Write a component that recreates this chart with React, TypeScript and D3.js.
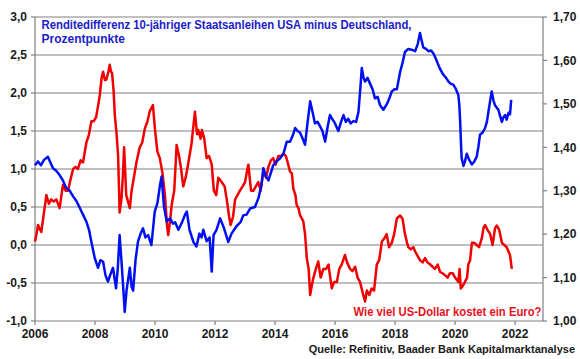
import React from "react";
import * as d3 from "d3";

// ---- Data ----
const spreadDates = [
  2006.0, 2006.1, 2006.2, 2006.3, 2006.43, 2006.52, 2006.6, 2006.7, 2006.82, 2006.93,
  2007.04, 2007.15, 2007.27, 2007.38, 2007.49, 2007.6, 2007.71, 2007.8, 2007.88, 2007.99,
  2008.1, 2008.18, 2008.27, 2008.35, 2008.43, 2008.52, 2008.6, 2008.7, 2008.76, 2008.82,
  2008.88, 2008.93, 2008.99, 2009.05, 2009.16, 2009.22, 2009.27, 2009.35, 2009.43, 2009.52,
  2009.6, 2009.68, 2009.77, 2009.88, 2009.99, 2010.08, 2010.17, 2010.22, 2010.3, 2010.39,
  2010.5, 2010.6, 2010.67, 2010.78, 2010.9, 2011.0, 2011.06, 2011.15, 2011.28, 2011.38,
  2011.48, 2011.55, 2011.61, 2011.72, 2011.82, 2011.89, 2011.95, 2012.05, 2012.17, 2012.3,
  2012.44, 2012.55, 2012.72, 2012.85, 2012.94, 2013.05, 2013.17, 2013.33, 2013.45, 2013.55,
  2013.61, 2013.7, 2013.78, 2013.9, 2013.94, 2014.05, 2014.17, 2014.28, 2014.39, 2014.5,
  2014.6, 2014.67, 2014.75, 2014.83, 2014.92, 2015.0, 2015.08, 2015.17, 2015.25, 2015.33,
  2015.42, 2015.5, 2015.58, 2015.67, 2015.75, 2015.83, 2015.92, 2016.0, 2016.11, 2016.2,
  2016.28, 2016.36, 2016.44, 2016.52, 2016.61, 2016.7, 2016.78, 2016.85, 2016.89, 2016.95,
  2017.0, 2017.08, 2017.17, 2017.25, 2017.33, 2017.42, 2017.5, 2017.61, 2017.72, 2017.8,
  2017.89, 2017.98, 2018.06, 2018.17, 2018.25, 2018.33, 2018.44, 2018.55, 2018.67, 2018.76,
  2018.83, 2018.88, 2018.94, 2019.03, 2019.11, 2019.2, 2019.28, 2019.36, 2019.44, 2019.52,
  2019.61, 2019.7, 2019.78, 2019.86, 2019.94, 2020.03, 2020.11, 2020.14, 2020.17, 2020.2,
  2020.22, 2020.28, 2020.33, 2020.39, 2020.47, 2020.56, 2020.64, 2020.72, 2020.78, 2020.83,
  2020.92, 2021.0, 2021.06, 2021.11, 2021.17, 2021.22, 2021.28, 2021.33, 2021.44, 2021.5,
  2021.56, 2021.61, 2021.67, 2021.72, 2021.78, 2021.83, 2021.87,
];
const spreadValues = [
  1.05, 1.1, 1.05, 1.12, 1.16, 1.08, 1.01, 0.98, 0.92, 0.85,
  0.75, 0.72, 0.64, 0.58, 0.49, 0.4, 0.31, 0.2, 0.04, -0.17,
  -0.3, -0.2, -0.22, -0.4, -0.48, -0.38, -0.3, -0.57, -0.3, 0.13,
  -0.2, -0.5, -0.88, -0.6, -0.3, -0.55, -0.6, -0.2, 0.04, 0.15,
  0.22, 0.1, 0.13, 0.0, 0.44, 0.55, 0.8, 0.9, 0.5, 0.31,
  0.35, 0.28, 0.3, 0.2, 0.3, 0.4, 0.44, 0.2, 0.04, -0.02,
  0.15, 0.1, 0.2, 0.05, 0.1, -0.35, 0.13, 0.2, 0.35, 0.22,
  0.04, 0.15, 0.25, 0.3, 0.39, 0.4, 0.48, 0.5, 0.62, 0.8,
  1.01, 0.9, 0.85, 1.0, 1.05, 1.1, 1.14, 1.2, 1.36, 1.36,
  1.45, 1.54, 1.5, 1.48, 1.4, 1.32, 1.6, 1.89, 1.75, 1.6,
  1.62, 1.56, 1.5, 1.36, 1.55, 1.71, 1.65, 1.6, 1.5, 1.62,
  1.71, 1.62, 1.66, 1.6, 1.63, 1.62, 1.75, 2.1, 2.33, 2.2,
  2.15, 2.2, 2.12, 2.05, 1.93, 1.95, 1.84, 1.78, 1.85, 1.92,
  2.02, 2.05, 2.05, 2.28, 2.4, 2.54, 2.58, 2.57, 2.55, 2.65,
  2.79, 2.7, 2.6, 2.58, 2.55, 2.56, 2.52, 2.45, 2.37, 2.3,
  2.24, 2.2, 2.15, 2.12, 2.11, 2.05, 1.97, 1.85, 1.62, 1.3,
  1.14, 1.04, 1.1, 1.2, 1.12, 1.06, 1.1, 1.16, 1.3, 1.45,
  1.48, 1.54, 1.62, 1.75, 1.9, 2.02, 1.9, 1.84, 1.78, 1.7,
  1.62, 1.68, 1.71, 1.65, 1.74, 1.72, 1.91,
];

const fxDates = [
  2006.0, 2006.05, 2006.1, 2006.21, 2006.3, 2006.38, 2006.46, 2006.54, 2006.62, 2006.71,
  2006.82, 2006.93, 2007.02, 2007.1, 2007.18, 2007.27, 2007.35, 2007.43, 2007.52, 2007.6,
  2007.71, 2007.8, 2007.88, 2007.96, 2008.04, 2008.16, 2008.22, 2008.27, 2008.33, 2008.38,
  2008.45, 2008.49, 2008.53, 2008.57, 2008.62, 2008.66, 2008.72, 2008.77, 2008.82, 2008.88,
  2008.93, 2008.97, 2009.04, 2009.16, 2009.22, 2009.27, 2009.38, 2009.49, 2009.57, 2009.66,
  2009.75, 2009.82, 2009.93, 2010.0, 2010.08, 2010.16, 2010.25, 2010.33, 2010.4, 2010.44,
  2010.5, 2010.56, 2010.64, 2010.72, 2010.8, 2010.87, 2010.94, 2011.02, 2011.1, 2011.22,
  2011.28, 2011.33, 2011.4, 2011.44, 2011.52, 2011.56, 2011.64, 2011.72, 2011.8, 2011.89,
  2011.96, 2012.04, 2012.11, 2012.22, 2012.32, 2012.39, 2012.47, 2012.52, 2012.6, 2012.67,
  2012.75, 2012.83, 2012.92, 2013.0, 2013.08, 2013.11, 2013.2, 2013.28, 2013.36, 2013.44,
  2013.52, 2013.61, 2013.7, 2013.78, 2013.86, 2013.94, 2014.02, 2014.11, 2014.2, 2014.28,
  2014.36, 2014.44, 2014.5, 2014.56, 2014.61, 2014.68, 2014.72, 2014.78, 2014.83, 2014.94,
  2015.0, 2015.06, 2015.12, 2015.17, 2015.22, 2015.28, 2015.36, 2015.44, 2015.52, 2015.61,
  2015.7, 2015.78, 2015.84, 2015.89, 2015.97, 2016.06, 2016.14, 2016.22, 2016.33, 2016.4,
  2016.5, 2016.58, 2016.67, 2016.75, 2016.83, 2016.94, 2017.0, 2017.06, 2017.14, 2017.22,
  2017.3, 2017.39, 2017.47, 2017.56, 2017.64, 2017.72, 2017.8, 2017.89, 2017.97, 2018.06,
  2018.12, 2018.17, 2018.25, 2018.33, 2018.4, 2018.44, 2018.52, 2018.61, 2018.67, 2018.75,
  2018.83, 2018.92, 2019.0, 2019.08, 2019.17, 2019.25, 2019.33, 2019.42, 2019.5, 2019.58,
  2019.67, 2019.75, 2019.83, 2019.92, 2020.0, 2020.11, 2020.15, 2020.19, 2020.25, 2020.33,
  2020.4, 2020.44, 2020.5, 2020.56, 2020.64, 2020.72, 2020.8, 2020.89, 2020.95, 2021.0,
  2021.08, 2021.17, 2021.25, 2021.33, 2021.39, 2021.47, 2021.56, 2021.64, 2021.72, 2021.78,
  2021.83, 2021.89,
];
const fxValues = [
  1.183, 1.2, 1.221, 1.205, 1.25, 1.29, 1.27, 1.28, 1.275, 1.28,
  1.26, 1.313, 1.3, 1.3, 1.325, 1.35, 1.355, 1.35, 1.37, 1.365,
  1.41, 1.43, 1.46, 1.46, 1.47, 1.52, 1.56, 1.574, 1.555, 1.556,
  1.575, 1.59, 1.575, 1.57, 1.53, 1.474, 1.43, 1.38, 1.25, 1.28,
  1.336, 1.4, 1.29, 1.26, 1.3, 1.32, 1.365, 1.4, 1.41, 1.443,
  1.46, 1.482, 1.497, 1.44, 1.39, 1.375, 1.34, 1.29, 1.22, 1.198,
  1.23, 1.27, 1.3, 1.405, 1.38, 1.35, 1.31, 1.33, 1.36, 1.41,
  1.45, 1.482, 1.43, 1.44, 1.42, 1.44, 1.42, 1.375, 1.38, 1.36,
  1.3, 1.29, 1.33, 1.32, 1.31, 1.28, 1.24, 1.221, 1.24, 1.28,
  1.29, 1.3, 1.31, 1.32, 1.35, 1.36, 1.3, 1.3, 1.31, 1.32,
  1.3, 1.345, 1.33, 1.355, 1.37, 1.375, 1.36, 1.38, 1.38, 1.385,
  1.38, 1.36, 1.344, 1.34, 1.305, 1.29, 1.267, 1.26, 1.244, 1.23,
  1.2, 1.144, 1.12, 1.06, 1.08, 1.1, 1.12, 1.137, 1.1, 1.12,
  1.12, 1.13, 1.1, 1.075, 1.09, 1.09, 1.12, 1.13, 1.152, 1.135,
  1.12, 1.115, 1.125, 1.1, 1.09, 1.06, 1.045, 1.07, 1.06, 1.075,
  1.07, 1.13, 1.14, 1.183, 1.19, 1.2, 1.17, 1.18, 1.2, 1.236,
  1.24, 1.243, 1.235, 1.2, 1.18, 1.17, 1.165, 1.17, 1.16, 1.15,
  1.14, 1.135, 1.145, 1.135, 1.13, 1.125, 1.12, 1.13, 1.113, 1.11,
  1.105, 1.1, 1.11, 1.11, 1.1, 1.09, 1.12, 1.075, 1.08, 1.09,
  1.1, 1.13, 1.14, 1.18, 1.18, 1.175, 1.17, 1.19, 1.215, 1.221,
  1.21, 1.2, 1.175, 1.213, 1.22, 1.21, 1.18, 1.175, 1.17, 1.16,
  1.152, 1.12,
];

const xTicks = [2006, 2008, 2010, 2012, 2014, 2016, 2018, 2020, 2022];
const leftTicks = [-1.0, -0.5, 0.0, 0.5, 1.0, 1.5, 2.0, 2.5, 3.0];
const rightTicks = [1.0, 1.1, 1.2, 1.3, 1.4, 1.5, 1.6, 1.7];

const titleLines = [
  "Renditedifferenz 10-jähriger Staatsanleihen USA minus Deutschland,",
  "Prozentpunkte",
];
const fxLabel = "Wie viel US-Dollar kostet ein Euro?";
const sourceLabel = "Quelle: Refinitiv, Baader Bank Kapitalmarktanalyse";

// ---- Layout ----
const W = 580;
const H = 359;
const L = 35;
const R = 543;
const T = 17;
const B = 321;
const FONT = "'Liberation Sans', Arial, sans-serif";

export default function App() {
  const x = d3.scaleLinear().domain([2006, 2022.93]).range([L, R]);
  const yL = d3.scaleLinear().domain([-1, 3]).range([B, T]);
  const yR = d3.scaleLinear().domain([1.0, 1.7]).range([B, T]);

  const spread = spreadDates.map((d, i) => [d, spreadValues[i]] as [number, number]);
  const fx = fxDates.map((d, i) => [d, fxValues[i]] as [number, number]);

  const lineL = d3
    .line<[number, number]>()
    .x((d) => x(d[0]))
    .y((d) => yL(d[1]));
  const lineR = d3
    .line<[number, number]>()
    .x((d) => x(d[0]))
    .y((d) => yR(d[1]));

  const fmt1 = (v: number) => d3.format(".1f")(v).replace(".", ",").replace("−", "-");
  const fmt2 = (v: number) => d3.format(".2f")(v).replace(".", ",");

  const axisColor = "#808080";

  return (
    <svg
      width={W}
      height={H}
      style={{ position: "absolute", left: 0, top: 0, background: "#fff" }}
      fontFamily={FONT}
    >
      <rect x={0} y={0} width={W} height={H} fill="#fff" />
      {/* gridlines */}
      {leftTicks
        .filter((t) => t > -1)
        .map((t) => (
          <line key={"g" + t} x1={L} x2={R} y1={yL(t)} y2={yL(t)} stroke={axisColor} strokeWidth={1.2} />
        ))}
      {/* axes */}
      <line x1={L} x2={L} y1={T} y2={B} stroke={axisColor} strokeWidth={1.2} />
      <line x1={R} x2={R} y1={T} y2={B} stroke={axisColor} strokeWidth={1.2} />
      <line x1={L} x2={R} y1={B} y2={B} stroke={axisColor} strokeWidth={1.2} />
      {/* left ticks */}
      {leftTicks.map((t) => (
        <g key={"l" + t}>
          <line x1={L - 4} x2={L} y1={yL(t)} y2={yL(t)} stroke={axisColor} strokeWidth={1.2} />
          <text x={27} y={yL(t) + 4.3} textAnchor="end" fontSize={12} fontWeight="bold" fill="#1a1a1a">
            {fmt1(t)}
          </text>
        </g>
      ))}
      {/* right ticks */}
      {rightTicks.map((t) => (
        <g key={"r" + t}>
          <line x1={R} x2={R + 4} y1={yR(t)} y2={yR(t)} stroke={axisColor} strokeWidth={1.2} />
          <text x={553} y={yR(t) + 4.3} textAnchor="start" fontSize={12} fontWeight="bold" fill="#1a1a1a">
            {fmt2(t)}
          </text>
        </g>
      ))}
      {/* x ticks */}
      {xTicks.map((t) => (
        <g key={"x" + t}>
          <line x1={x(t)} x2={x(t)} y1={B} y2={B + 4} stroke={axisColor} strokeWidth={1.2} />
          <text x={x(t)} y={337.5} textAnchor="middle" fontSize={12} fontWeight="bold" fill="#1a1a1a">
            {t}
          </text>
        </g>
      ))}
      {/* series */}
      <path d={lineR(fx) || ""} fill="none" stroke="#f00000" strokeWidth={2.5} strokeLinejoin="round" />
      <path d={lineL(spread) || ""} fill="none" stroke="#0010f0" strokeWidth={2.5} strokeLinejoin="round" />
      {/* labels */}
      <text x={41.5} y={29} fontSize={12} fontWeight="bold" fill="#1c1cc8" textLength={370} lengthAdjust="spacingAndGlyphs">
        {titleLines[0]}
      </text>
      <text x={41.5} y={43} fontSize={12} fontWeight="bold" fill="#1c1cc8">
        {titleLines[1]}
      </text>
      <text x={541.5} y={316} textAnchor="end" fontSize={12} fontWeight="bold" fill="#e8101c" textLength={188} lengthAdjust="spacingAndGlyphs">
        {fxLabel}
      </text>
      <text x={575} y={352.5} textAnchor="end" fontSize={11} fontWeight="bold" fill="#1a1a1a">
        {sourceLabel}
      </text>
    </svg>
  );
}
